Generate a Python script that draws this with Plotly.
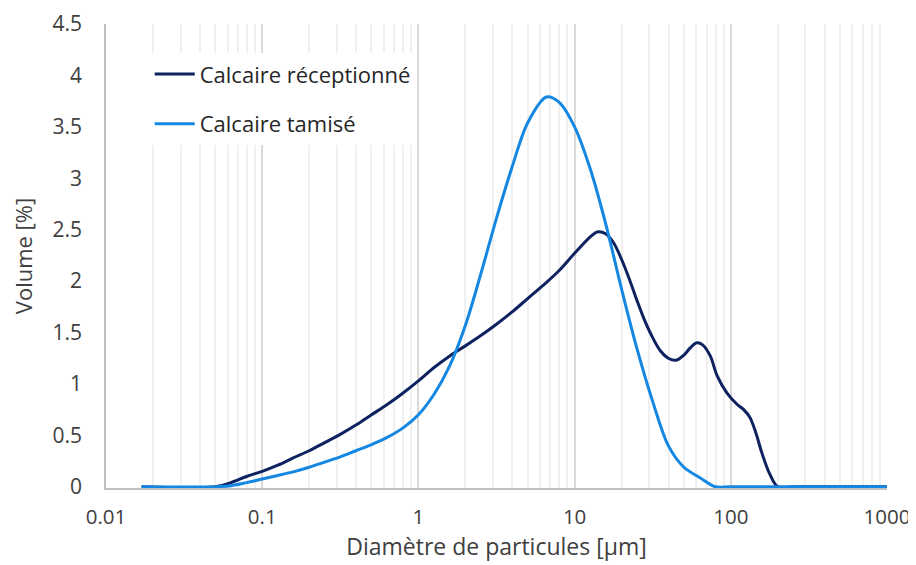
import plotly.graph_objects as go

# ---- data ----
recep_d = [0.0169, 0.0501, 0.0631, 0.0794, 0.1, 0.126, 0.158, 0.2, 0.251, 0.316,
           0.398, 0.501, 0.631, 0.794, 1.0, 1.26, 1.58, 2.0, 2.51, 3.16,
           3.98, 5.01, 6.31, 7.94, 10.0, 12.6, 14.1, 15.8, 17.8, 20.0,
           22.4, 25.1, 28.2, 31.6, 35.5, 39.8, 44.7, 50.1, 55.0, 60.5,
           66.0, 74.0, 81.7, 94.6, 110, 121, 133, 145, 158, 178,
           200, 260, 1000]
recep_v = [0, 0, 0.04, 0.10, 0.15, 0.21, 0.28, 0.35, 0.43, 0.51,
           0.60, 0.70, 0.80, 0.91, 1.03, 1.16, 1.27, 1.37, 1.47, 1.58,
           1.70, 1.83, 1.96, 2.10, 2.27, 2.43, 2.48, 2.46, 2.37, 2.21,
           2.02, 1.81, 1.61, 1.45, 1.32, 1.25, 1.23, 1.28, 1.35, 1.40,
           1.38, 1.27, 1.08, 0.91, 0.80, 0.75, 0.67, 0.52, 0.33, 0.12,
           0, 0, 0]

tamis_d = [0.0169, 0.0501, 0.0631, 0.0794, 0.1, 0.126, 0.158, 0.2, 0.251, 0.316,
           0.398, 0.501, 0.631, 0.794, 1.0, 1.26, 1.58, 2.0, 2.51, 3.16,
           3.98, 5.01, 6.6, 7.94, 10.0, 12.6, 15.8, 20.0, 25.1,
           31.6, 39.8, 50.1, 63.1, 79.4, 100, 1000]
tamis_v = [0, 0, 0.01, 0.04, 0.075, 0.11, 0.145, 0.19, 0.24, 0.29,
           0.35, 0.41, 0.48, 0.57, 0.70, 0.90, 1.17, 1.57, 2.07, 2.61,
           3.11, 3.54, 3.79, 3.74, 3.50, 3.09, 2.56, 1.92, 1.34,
           0.83, 0.40, 0.19, 0.09, 0, 0, 0]

series_names = ["Calcaire réceptionné", "Calcaire tamisé"]
x_tick_vals = [0.01, 0.1, 1, 10, 100, 1000]
x_tick_text = ["0.01", "0.1", "1", "10", "100", "1000"]
y_tick_vals = [0, 0.5, 1, 1.5, 2, 2.5, 3, 3.5, 4, 4.5]
y_tick_text = ["0", "0.5", "1", "1.5", "2", "2.5", "3", "3.5", "4", "4.5"]

FONT = "Open Sans"
DARK = "#0f2260"
LIGHT = "#1487e2"
TXT = "#404040"

fig = go.Figure()
fig.add_trace(go.Scatter(x=recep_d, y=recep_v, mode="lines", name=series_names[0],
                         line=dict(color=DARK, width=3, shape="spline", smoothing=0.9),
                         legendgroup="a"))
fig.add_trace(go.Scatter(x=tamis_d, y=tamis_v, mode="lines", name=series_names[1],
                         line=dict(color=LIGHT, width=3, shape="spline", smoothing=0.9),
                         legendgroup="b"))

minor_vals = [m * 10 ** e for e in range(-2, 3) for m in range(2, 10)]

# the page body adds an 8px margin, so the figure is 908x557 to fill the window
fig.update_layout(
    width=908, height=557,
    margin=dict(l=98, r=29, t=16, b=77, autoexpand=False),
    paper_bgcolor="white", plot_bgcolor="white",
    font=dict(family=FONT, size=21, color=TXT),
    showlegend=True,
    legend=dict(x=0.056, y=0.937, xanchor="left", yanchor="top",
                bgcolor="white", borderwidth=0,
                font=dict(family=FONT, size=22, color="#262626"),
                traceorder="grouped", tracegroupgap=18, itemwidth=40),
    xaxis=dict(type="log", range=[-2, 3], automargin=False,
               tickmode="array", tickvals=x_tick_vals, ticktext=x_tick_text,
               showgrid=True, gridcolor="#d9d9d9", gridwidth=1.5,
               minor=dict(tickmode="array", tickvals=minor_vals, showgrid=True,
                          gridcolor="#f0f0f0", gridwidth=1.5, ticks=""),
               showline=True, linecolor="#bfbfbf", linewidth=1.5,
               ticks="", ticklabelstandoff=10,
               tickfont=dict(family=FONT, size=20.5, color=TXT),
               title=dict(text="Diamètre de particules [µm]", standoff=6,
                          font=dict(family=FONT, size=23, color=TXT)),
               zeroline=False),
    yaxis=dict(range=[-0.012, 4.5], automargin=False,
               tickmode="array", tickvals=y_tick_vals, ticktext=y_tick_text,
               showgrid=False, showline=True, linecolor="#bfbfbf", linewidth=1.5,
               ticks="", ticklabelstandoff=18,
               tickfont=dict(family=FONT, size=21, color=TXT),
               title=dict(text="Volume [%]", standoff=14,
                          font=dict(family=FONT, size=22, color=TXT)),
               zeroline=False),
)

fig.write_html("out.html")
